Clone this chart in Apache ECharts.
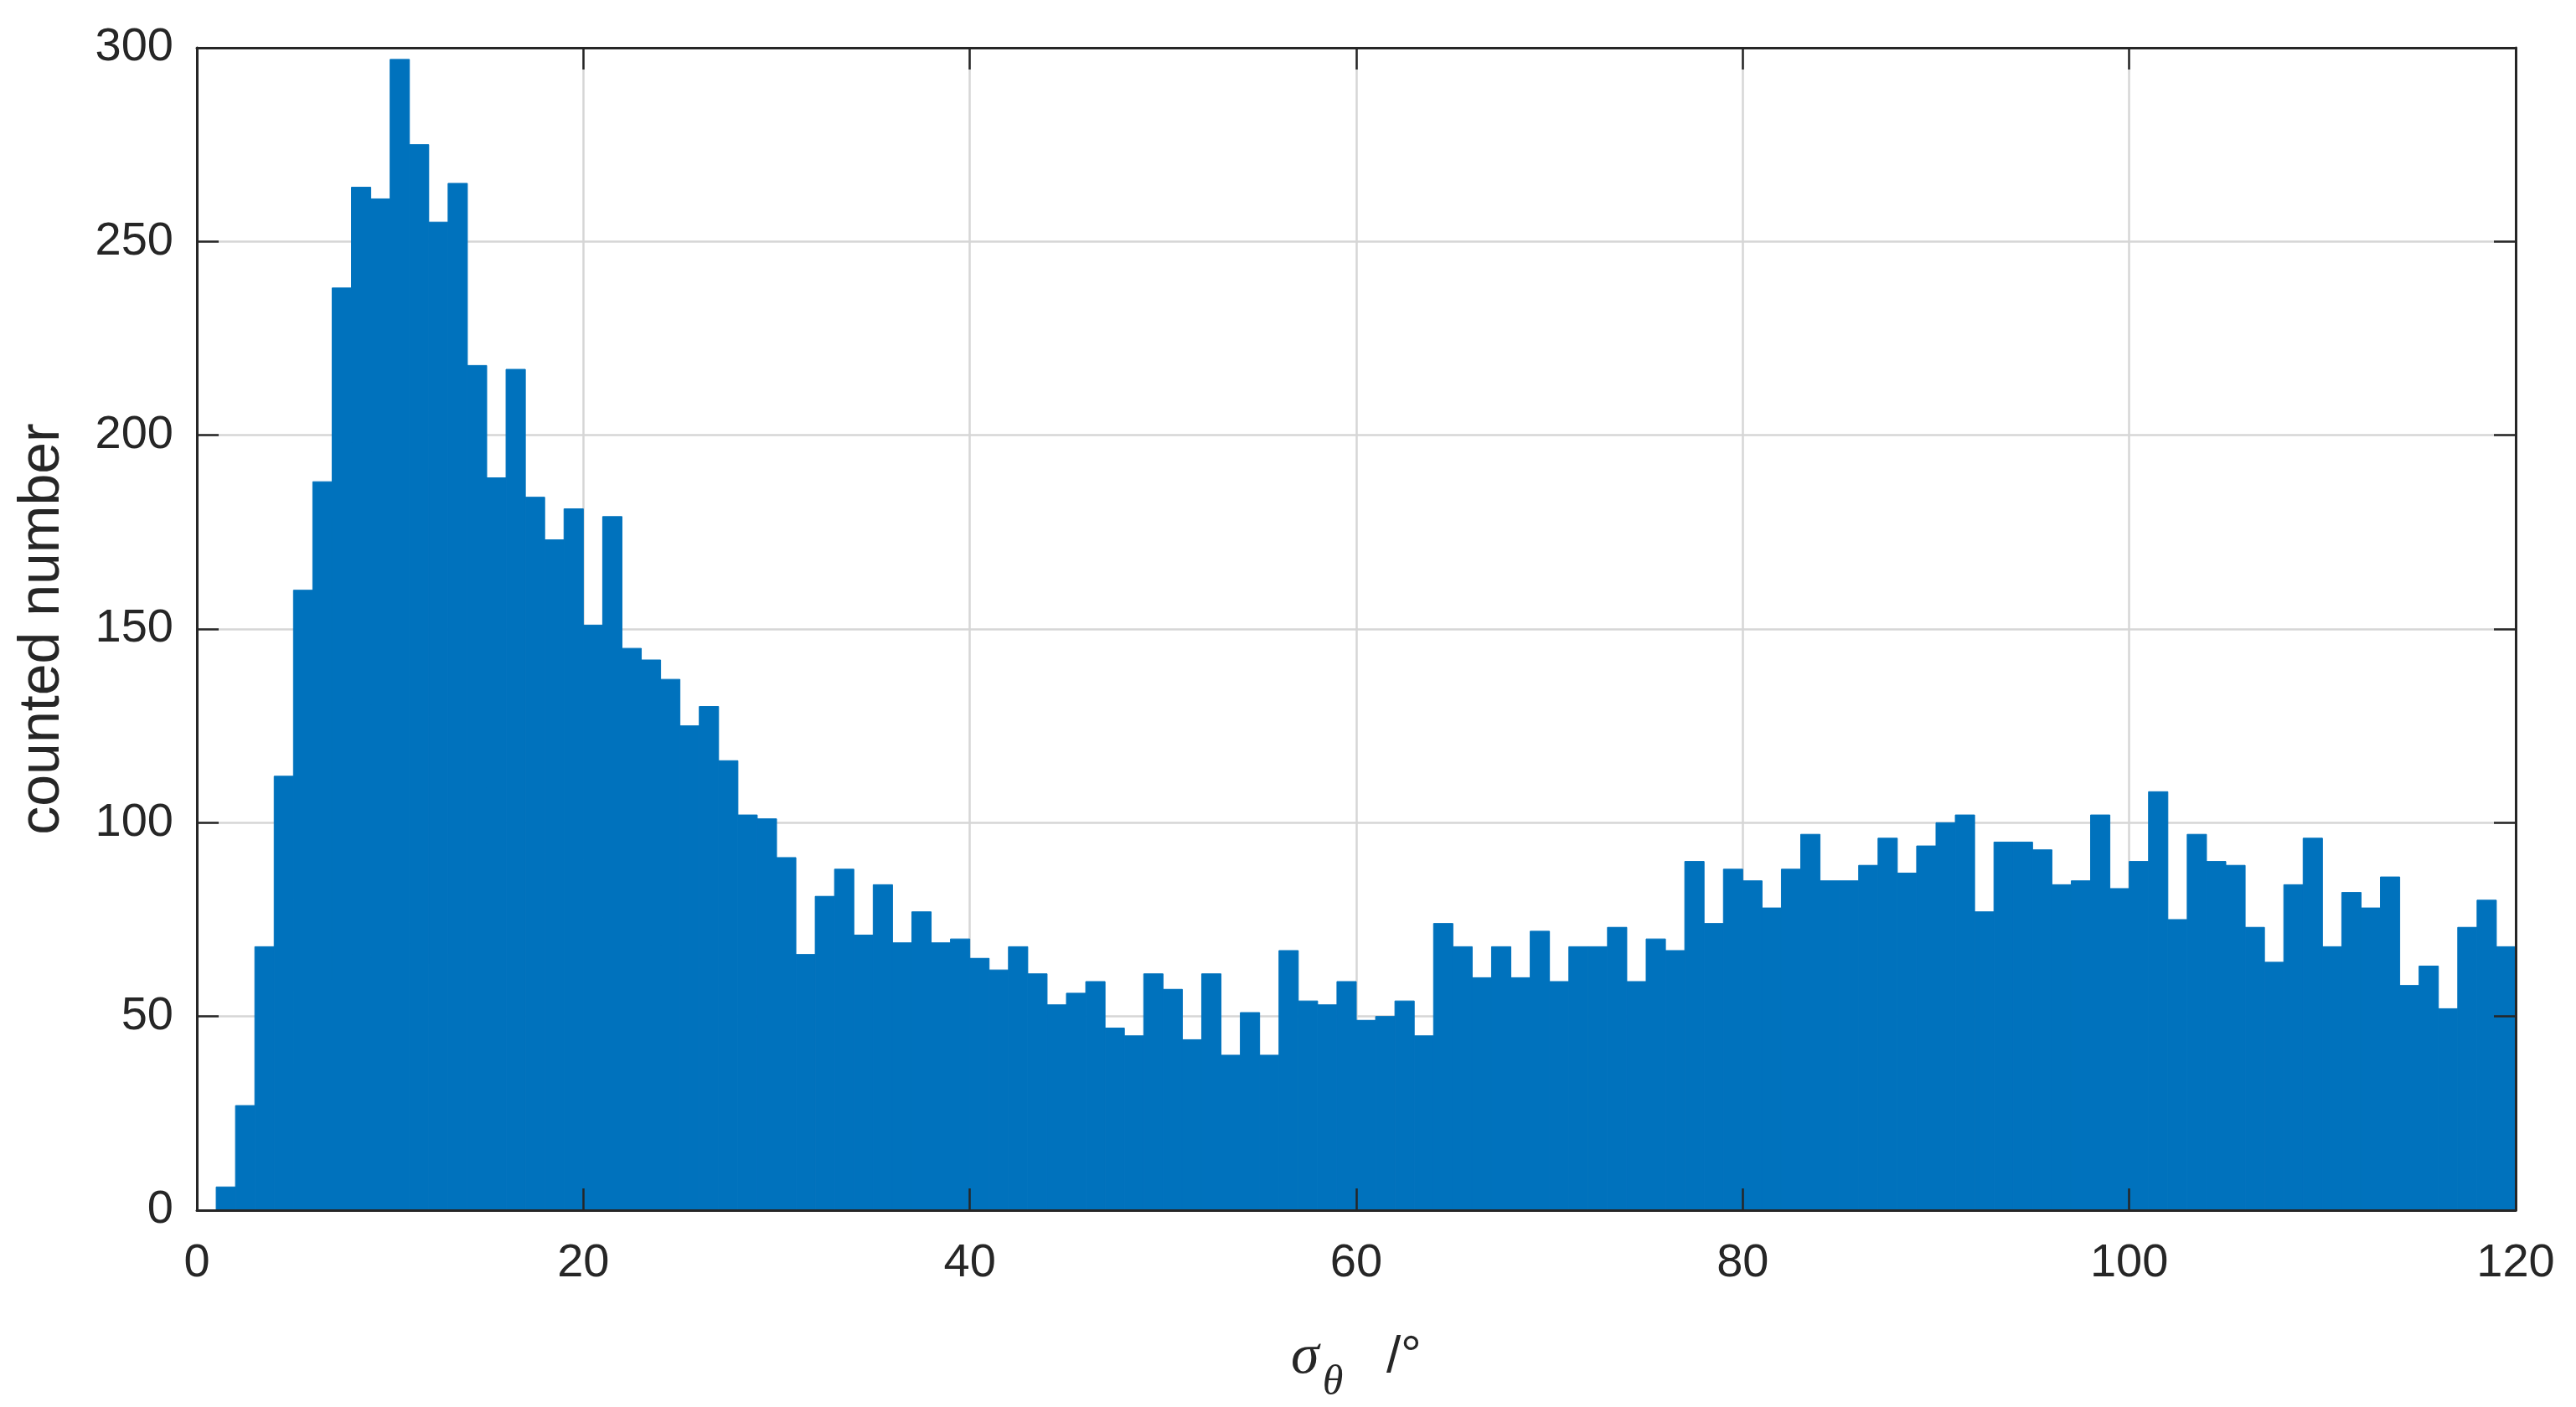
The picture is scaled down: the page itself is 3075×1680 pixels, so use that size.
<!DOCTYPE html>
<html>
<head>
<meta charset="utf-8">
<title>sigma theta histogram</title>
<script src="https://cdn.jsdelivr.net/npm/echarts@6/dist/echarts.min.js"></script>
<style>
  html, body { margin: 0; padding: 0; background: #fff; }
  #chart { width: 3075px; height: 1680px; }
</style>
</head>
<body>
<div id="chart"></div>
<script>
// histogram: bins of width 1 starting at sigma = 1
var binStart = 1
var binWidth = 1
var counts = [
  6, 27, 68, 112, 160, 188, 238, 264, 261, 297,
  275, 255, 265, 218, 189, 217, 184, 173, 181, 151,
  179, 145, 142, 137, 125, 130, 116, 102, 101, 91,
  66, 81, 88, 71, 84, 69, 77, 69, 70, 65,
  62, 68, 61, 53, 56, 59, 47, 45, 61, 57,
  44, 61, 40, 51, 40, 67, 54, 53, 59, 49,
  50, 54, 45, 74, 68, 60, 68, 60, 72, 59,
  68, 68, 73, 59, 70, 67, 90, 74, 88, 85,
  78, 88, 97, 85, 85, 89, 96, 87, 94, 100,
  102, 77, 95, 95, 93, 84, 85, 102, 83, 90,
  108, 75, 97, 90, 89, 73, 64, 84, 96, 68,
  82, 78, 86, 58, 63, 52, 73, 80, 68
]

// axis ranges / tick steps
var xRange = [0, 120]
var xStep = 20
var yRange = [0, 300]
var yStep = 50

var xName = '{s|σ}{sub|θ}{u|   /°}'
var yName = 'counted number'

var barColor = '#0072BD'
var axisColor = '#262626'
var gridColor = '#d6d6d6'

var bins = counts.map(function (c, i) {
  var left = binStart + i * binWidth
  return [left, left + binWidth, c]
})

function axis(range, step, extra) {
  var a = {
    type: 'value',
    min: range[0],
    max: range[1],
    interval: step,
    axisLine: { show: true, onZero: false, lineStyle: { color: axisColor, width: 3 } },
    axisTick: { show: true, inside: true, length: 26, lineStyle: { color: axisColor, width: 2.5 } },
    axisLabel: { show: false },
    splitLine: { show: false },
    z: 5
  }
  return Object.assign(a, extra)
}

var gridOnly = {
  axisLine: { show: false },
  axisTick: { show: false },
  axisLabel: { show: false },
  splitLine: { show: true, lineStyle: { color: gridColor, width: 2.5 } },
  z: 0
}

var tickFont = {
  show: true,
  color: axisColor,
  fontSize: 56,
  fontFamily: 'Liberation Sans, Arial, sans-serif'
}

var chart = echarts.init(document.getElementById('chart'))
chart.setOption({
  backgroundColor: '#fff',
  animation: false,
  grid: {
    left: 235,
    right: 72,
    top: 57,
    bottom: 235,
    containLabel: false,
    outerBoundsMode: 'none'
  },
  xAxis: [
    axis(xRange, xStep, Object.assign({ position: 'bottom' }, gridOnly)),
    axis(xRange, xStep, {
      position: 'bottom',
      axisLabel: Object.assign({ margin: 36 }, tickFont),
      name: xName,
      nameLocation: 'middle',
      nameGap: 120,
      nameTextStyle: {
        rich: {
          s: { fontFamily: 'Liberation Serif', fontStyle: 'italic', fontSize: 68, color: axisColor },
          sub: { fontFamily: 'Liberation Serif', fontStyle: 'italic', fontSize: 50, color: axisColor, padding: [62, 0, 0, 4] },
          u: { fontFamily: 'Liberation Sans', fontSize: 62, color: axisColor }
        }
      }
    }),
    axis(xRange, xStep, { position: 'top' })
  ],
  yAxis: [
    axis(yRange, yStep, Object.assign({ position: 'left' }, gridOnly)),
    axis(yRange, yStep, {
      position: 'left',
      axisLabel: Object.assign({ margin: 28 }, tickFont),
      name: yName,
      nameLocation: 'middle',
      nameGap: 150,
      nameTextStyle: {
        color: axisColor,
        fontSize: 68,
        fontFamily: 'Liberation Sans, Arial, sans-serif'
      }
    }),
    axis(yRange, yStep, { position: 'right' })
  ],
  series: [{
    type: 'custom',
    xAxisIndex: 0,
    yAxisIndex: 0,
    z: 2,
    data: bins,
    encode: { x: [0, 1], y: 2 },
    renderItem: function (params, api) {
      var top = api.coord([api.value(0), api.value(2)])
      var base = api.coord([api.value(1), 0])
      return {
        type: 'rect',
        shape: { x: top[0], y: top[1], width: base[0] - top[0], height: base[1] - top[1] },
        style: { fill: barColor, stroke: barColor, lineWidth: 1 }
      }
    }
  }]
})
</script>
</body>
</html>
